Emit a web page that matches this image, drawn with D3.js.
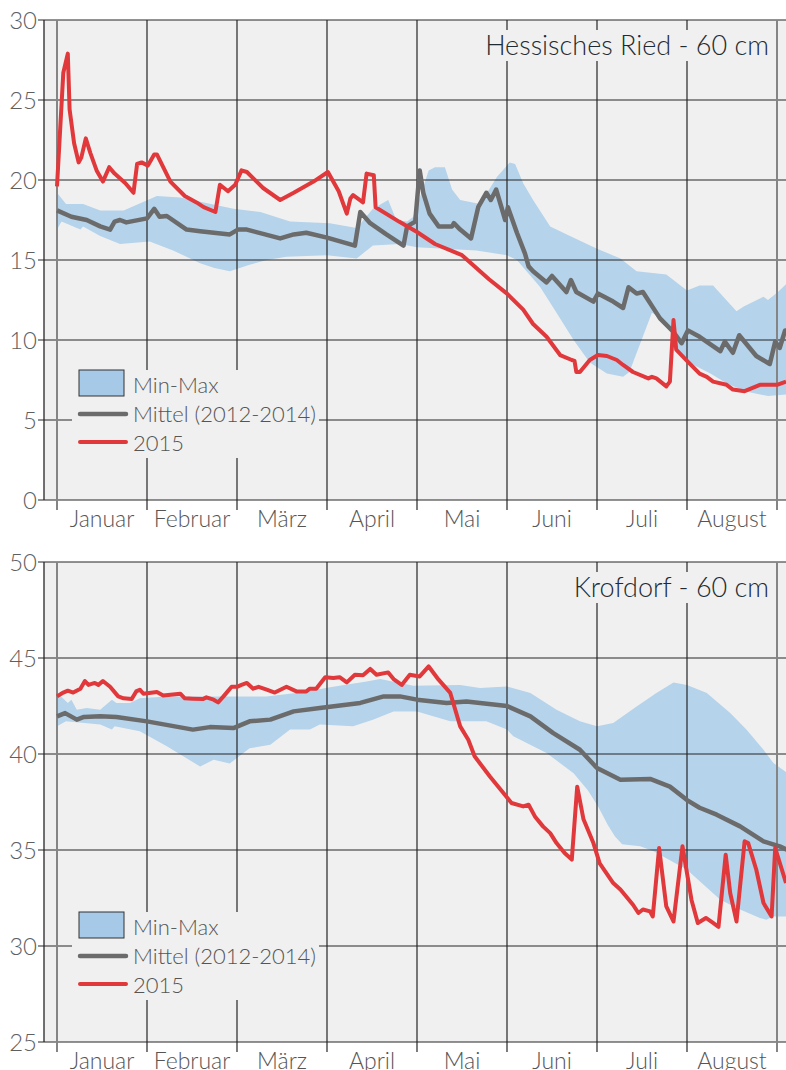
<!DOCTYPE html>
<html><head><meta charset="utf-8">
<script src="https://cdn.jsdelivr.net/npm/d3@7"></script>
<style>
body{margin:0;background:#fff}
svg{display:block}
text{font-family:Lato,'Open Sans',sans-serif}
</style>
</head><body>
<svg id="c" width="786" height="1070"></svg>
<script>
// ---------- data ----------
const monthLabels = ["Januar","Februar","März","April","Mai","Juni","Juli","August"];
const monthBounds = [0,1,2,3,4,5,6,7,8];
const legendLabels = ["Min-Max","Mittel (2012-2014)","2015"];

// Hessisches Ried - 60 cm  (x = month position, 0 = 1. Januar)
const riedTicks = [0,5,10,15,20,25,30];
const ried2015 = [[0,19.6],[0.07,26.7],[0.12,27.9],[0.14,24.4],[0.19,22.3],[0.24,21.1],[0.27,21.4],[0.32,22.6],[0.37,21.7],[0.44,20.6],[0.51,19.9],[0.58,20.8],[0.64,20.4],[0.76,19.8],[0.85,19.2],[0.89,21.0],[0.94,21.1],[1.01,20.9],[1.08,21.6],[1.11,21.6],[1.26,19.9],[1.42,19.0],[1.55,18.6],[1.63,18.3],[1.76,18.0],[1.81,19.7],[1.90,19.3],[1.98,19.7],[2.05,20.6],[2.11,20.5],[2.29,19.5],[2.48,18.75],[2.63,19.2],[2.85,19.9],[3.01,20.5],[3.13,19.3],[3.22,17.9],[3.26,18.85],[3.29,19.06],[3.40,18.6],[3.44,20.4],[3.52,20.3],[3.54,18.3],[3.8,17.4],[4.0,16.75],[4.2,16.0],[4.5,15.3],[4.8,13.8],[5.0,12.9],[5.18,11.9],[5.29,11.0],[5.44,10.2],[5.59,9.06],[5.72,8.75],[5.75,8.7],[5.77,8.0],[5.81,8.0],[5.92,8.75],[6.01,9.06],[6.11,9.0],[6.22,8.75],[6.29,8.44],[6.4,8.0],[6.57,7.6],[6.61,7.7],[6.66,7.6],[6.77,7.1],[6.81,7.4],[6.85,11.25],[6.88,9.4],[7.0,8.7],[7.14,7.9],[7.22,7.7],[7.29,7.4],[7.44,7.2],[7.51,6.9],[7.64,6.8],[7.81,7.2],[8.0,7.2],[8.1,7.4]];
const riedMittel = [[0,18.1],[0.16,17.7],[0.33,17.5],[0.48,17.1],[0.59,16.9],[0.64,17.4],[0.7,17.5],[0.77,17.35],[1.0,17.6],[1.08,18.2],[1.14,17.7],[1.22,17.75],[1.44,16.9],[1.59,16.8],[1.92,16.6],[2.01,16.9],[2.11,16.9],[2.48,16.35],[2.63,16.6],[2.77,16.7],[3.0,16.4],[3.31,15.9],[3.37,18.0],[3.48,17.3],[3.66,16.6],[3.85,15.9],[3.89,17.1],[3.98,17.4],[4.03,20.6],[4.07,19.2],[4.14,17.9],[4.24,17.1],[4.39,17.1],[4.41,17.3],[4.48,16.9],[4.6,16.35],[4.68,18.3],[4.77,19.2],[4.82,18.75],[4.88,19.4],[4.98,17.5],[5.01,18.3],[5.11,16.7],[5.2,15.4],[5.24,14.6],[5.29,14.3],[5.44,13.6],[5.5,14.0],[5.66,13.0],[5.71,13.75],[5.77,13.0],[5.96,12.4],[6.01,12.9],[6.18,12.4],[6.29,12.0],[6.35,13.3],[6.44,12.9],[6.51,13.0],[6.7,11.35],[6.85,10.5],[6.94,9.8],[7.01,10.6],[7.14,10.2],[7.37,9.3],[7.42,9.9],[7.51,9.2],[7.58,10.3],[7.77,9.0],[7.92,8.5],[7.98,9.9],[8.03,9.5],[8.09,10.6],[8.12,10.6]];
const riedMax = [[0,19.2],[0.1,18.5],[0.29,18.5],[0.48,18.1],[0.74,18.1],[1.11,19.0],[1.37,18.9],[1.96,18.2],[2.26,18.0],[2.59,17.4],[3.03,17.3],[3.33,17.0],[3.51,18.2],[3.68,18.75],[3.77,17.5],[3.89,17.4],[3.96,17.7],[4.13,20.6],[4.2,20.8],[4.31,20.8],[4.39,19.4],[4.48,18.75],[4.7,18.5],[4.89,20.2],[5.03,21.1],[5.09,21.0],[5.18,19.8],[5.29,18.75],[5.48,17.1],[5.7,16.5],[6.0,15.7],[6.26,15.1],[6.44,14.3],[6.77,14.1],[7.0,13.1],[7.14,13.4],[7.29,13.4],[7.55,11.8],[7.63,12.1],[7.85,12.7],[7.9,12.5],[8.01,13.0],[8.12,13.6]];
const riedMin = [[0,16.9],[0.05,17.4],[0.26,16.9],[0.29,17.1],[0.48,16.5],[0.7,16.0],[1.03,16.15],[1.29,15.6],[1.59,14.8],[1.75,14.5],[1.92,14.3],[2.14,14.7],[2.33,15.0],[2.55,15.2],[3.0,15.3],[3.33,15.1],[3.51,15.9],[3.81,16.0],[4.0,15.8],[4.66,15.6],[5.0,15.3],[5.11,15.0],[5.37,13.3],[5.55,11.7],[5.74,10.0],[5.92,8.6],[6.11,7.9],[6.29,7.7],[6.36,8.0],[6.61,11.7],[6.72,11.35],[6.83,10.7],[6.87,9.4],[7.0,8.65],[7.26,7.9],[7.44,7.3],[7.64,6.8],[7.9,6.5],[8.12,6.6]];

// Krofdorf - 60 cm
const krofTicks = [25,30,35,40,45,50];
const krof2015 = [[0,43.0],[0.07,43.2],[0.12,43.3],[0.18,43.2],[0.26,43.4],[0.31,43.8],[0.35,43.6],[0.42,43.7],[0.46,43.6],[0.51,43.8],[0.59,43.5],[0.68,43.0],[0.74,42.9],[0.83,42.86],[0.88,43.26],[0.92,43.35],[0.96,43.14],[1.11,43.23],[1.18,43.05],[1.37,43.14],[1.42,42.9],[1.51,42.88],[1.62,42.86],[1.66,42.95],[1.74,42.83],[1.79,42.69],[1.85,43.0],[1.94,43.5],[2.0,43.5],[2.05,43.6],[2.11,43.7],[2.18,43.4],[2.24,43.5],[2.33,43.35],[2.42,43.2],[2.55,43.5],[2.66,43.26],[2.77,43.26],[2.81,43.4],[2.88,43.4],[2.98,44.0],[3.07,43.96],[3.14,44.0],[3.22,43.73],[3.31,44.13],[3.4,44.1],[3.48,44.43],[3.55,44.13],[3.68,44.25],[3.74,43.9],[3.83,43.6],[3.92,44.13],[4.03,44.04],[4.13,44.56],[4.24,43.87],[4.37,43.18],[4.48,41.44],[4.57,40.74],[4.64,39.88],[4.81,38.83],[4.96,37.97],[5.05,37.45],[5.18,37.27],[5.24,37.36],[5.31,36.75],[5.4,36.23],[5.48,35.88],[5.55,35.36],[5.64,34.84],[5.72,34.5],[5.78,38.3],[5.85,36.6],[5.96,35.36],[6.03,34.3],[6.18,33.28],[6.26,32.94],[6.4,32.15],[6.46,31.72],[6.51,31.9],[6.59,31.8],[6.62,31.54],[6.69,35.1],[6.77,32.06],[6.85,31.28],[6.95,35.19],[7.05,32.4],[7.12,31.2],[7.21,31.46],[7.29,31.2],[7.35,31.0],[7.43,34.75],[7.48,32.76],[7.55,31.28],[7.64,35.45],[7.68,35.36],[7.77,33.97],[7.85,32.24],[7.94,31.54],[7.98,35.1],[8.1,33.28]];
const krofMittel = [[0,41.96],[0.09,42.13],[0.22,41.79],[0.3,41.93],[0.48,41.96],[0.66,41.93],[1.0,41.7],[1.51,41.27],[1.7,41.4],[1.96,41.35],[2.14,41.7],[2.37,41.79],[2.63,42.22],[2.92,42.4],[3.37,42.66],[3.63,43.0],[3.81,43.0],[4.0,42.83],[4.33,42.66],[4.55,42.74],[5.0,42.5],[5.26,41.96],[5.51,41.1],[5.81,40.22],[6.0,39.27],[6.26,38.66],[6.59,38.7],[6.81,38.3],[7.0,37.6],[7.14,37.2],[7.33,36.84],[7.59,36.23],[7.85,35.45],[8.03,35.19],[8.12,35.0]];
const krofMax = [[0,43.2],[0.12,42.66],[0.16,42.83],[0.22,42.3],[0.33,42.4],[0.48,42.3],[0.61,42.83],[0.66,42.66],[0.81,42.66],[0.92,42.9],[1.22,43.0],[1.77,43.0],[2.33,43.0],[2.7,43.2],[3.07,43.5],[3.44,43.78],[3.59,43.9],[3.81,43.7],[3.96,43.55],[4.48,43.6],[4.7,43.44],[5.0,43.52],[5.26,43.18],[5.55,42.3],[5.81,41.7],[6.0,41.44],[6.18,41.61],[6.44,42.48],[6.66,43.18],[6.85,43.73],[7.0,43.6],[7.22,43.18],[7.48,42.14],[7.66,41.27],[7.85,40.22],[7.96,39.53],[8.12,39.0]];
const krofMin = [[0,41.44],[0.1,41.7],[0.48,41.53],[0.61,41.27],[0.64,41.44],[0.92,41.18],[1.22,40.4],[1.59,39.35],[1.74,39.7],[1.92,39.5],[2.14,40.3],[2.37,40.48],[2.59,41.27],[2.81,41.27],[2.92,41.53],[3.29,41.44],[3.51,41.79],[3.74,42.22],[4.0,42.22],[4.37,41.7],[4.77,41.7],[5.0,41.27],[5.07,40.92],[5.44,40.05],[5.74,39.0],[5.9,38.1],[6.02,37.2],[6.12,36.3],[6.2,35.7],[6.28,35.3],[6.48,35.19],[6.63,34.93],[7.0,33.97],[7.37,32.41],[7.59,31.9],[7.81,31.46],[7.88,31.37],[7.96,31.54],[8.12,31.54]];

// ---------- drawing ----------
const svg = d3.select('#c');
const PL = 44, PR = 786, H = 480;
const COL_BAND = '#b5d3ea', COL_RED = '#e1383b', COL_GRAY = '#6b6b6b';

function panel(cfg){
  const top = cfg.top;
  const x = d3.scaleLinear().domain([0,8]).range([57,777]);
  const y = d3.scaleLinear().domain(cfg.domain).range([top+H, top]);
  const g = svg.append('g');
  const clipId = 'clip' + top;
  svg.append('clipPath').attr('id', clipId).append('rect')
    .attr('x', PL).attr('y', top).attr('width', PR-PL).attr('height', H);

  g.append('rect').attr('x', PL).attr('y', top).attr('width', PR-PL).attr('height', H).attr('fill', '#f0f0f0');

  const line = d3.line().x(d => x(d[0])).y(d => y(d[1]));
  // band
  g.append('path').attr('d', line(cfg.max.concat(cfg.min.slice().reverse())) + 'Z')
    .attr('fill', COL_BAND).attr('clip-path', `url(#${clipId})`);

  // horizontal grid
  g.selectAll('.hg').data(cfg.ticks).join('line')
    .attr('x1', PL-6).attr('x2', PR).attr('y1', d => y(d)).attr('y2', d => y(d))
    .attr('stroke', '#262626').attr('stroke-width', 1.2);
  // vertical month lines
  g.selectAll('.vg').data(monthBounds).join('line')
    .attr('x1', d => x(d)).attr('x2', d => x(d)).attr('y1', top).attr('y2', top+H+10)
    .attr('stroke', (d,i) => (i===0 || i===monthBounds.length-1) ? '#858585' : '#262626')
    .attr('stroke-width', (d,i) => (i===0 || i===monthBounds.length-1) ? 2 : 1.2);
  // y axis line
  g.append('line').attr('x1', PL).attr('x2', PL).attr('y1', top).attr('y2', top+H)
    .attr('stroke', '#262626').attr('stroke-width', 1.3);

  // y labels
  g.selectAll('.yl').data(cfg.ticks).join('text')
    .attr('x', 37).attr('y', d => y(d)).attr('dy', '0.36em')
    .attr('text-anchor', 'end').attr('font-size', 24).attr('font-weight', 300)
    .attr('fill', '#5f5f5f').text(d => d);
  // month labels
  g.selectAll('.ml').data(monthLabels).join('text')
    .attr('x', (d,i) => x(i + 0.5)).attr('y', top + H + 27)
    .attr('text-anchor', 'middle').attr('font-size', 23).attr('font-weight', 300)
    .attr('fill', '#555').text(d => d);

  // legend background
  const lx = 72, ly = top + 350;
  g.append('rect').attr('x', lx).attr('y', ly).attr('width', 247).attr('height', 88).attr('fill', '#f0f0f0');
  // title
  const tt = g.append('text').attr('x', 769).attr('y', top + 35)
    .attr('text-anchor', 'end').attr('font-size', 27).attr('font-weight', 300)
    .attr('fill', '#1f2b33').text(cfg.title);
  const bb = tt.node().getBBox();
  g.insert('rect', () => tt.node()).attr('x', bb.x - 5).attr('y', top + 10)
    .attr('width', bb.width + 10).attr('height', 31).attr('fill', '#f0f0f0');

  // series
  g.append('path').attr('d', line(cfg.mittel)).attr('fill', 'none')
    .attr('stroke', COL_GRAY).attr('stroke-width', 4.5).attr('stroke-linejoin', 'round')
    .attr('clip-path', `url(#${clipId})`);
  g.append('path').attr('d', line(cfg.y2015)).attr('fill', 'none')
    .attr('stroke', COL_RED).attr('stroke-width', 4).attr('stroke-linejoin', 'round')
    .attr('clip-path', `url(#${clipId})`);

  // legend content
  g.append('rect').attr('x', 79).attr('y', ly).attr('width', 45).attr('height', 26)
    .attr('fill', '#a5c9e6').attr('stroke', '#333').attr('stroke-width', 1);
  g.append('line').attr('x1', 80).attr('x2', 126).attr('y1', ly + 44).attr('y2', ly + 44)
    .attr('stroke', COL_GRAY).attr('stroke-width', 4.5).attr('stroke-linecap', 'round');
  g.append('line').attr('x1', 80).attr('x2', 126).attr('y1', ly + 72).attr('y2', ly + 72)
    .attr('stroke', COL_RED).attr('stroke-width', 4).attr('stroke-linecap', 'round');
  g.selectAll('.lt').data(legendLabels).join('text')
    .attr('x', 133).attr('y', (d,i) => ly + 23 + i*29)
    .attr('font-size', 22).attr('font-weight', 300).attr('fill', '#555').text(d => d);
}

panel({top: 20, domain: [0,30], ticks: riedTicks, title: 'Hessisches Ried - 60 cm',
  max: riedMax, min: riedMin, mittel: riedMittel, y2015: ried2015});
panel({top: 562, domain: [25,50], ticks: krofTicks, title: 'Krofdorf - 60 cm',
  max: krofMax, min: krofMin, mittel: krofMittel, y2015: krof2015});
</script>
</body></html>
